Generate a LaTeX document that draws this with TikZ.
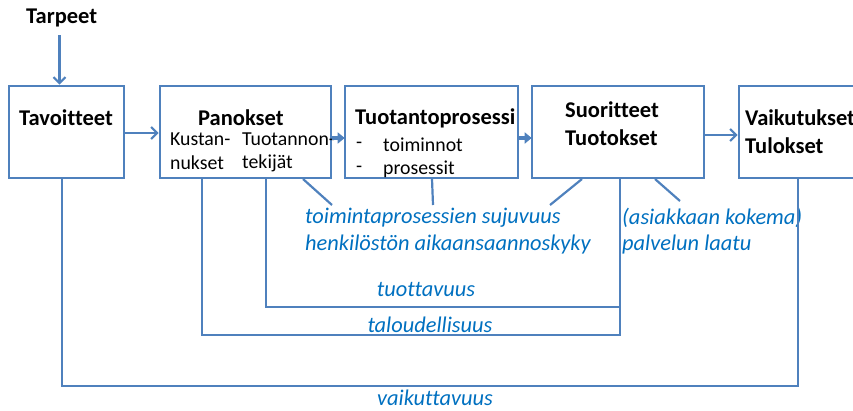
\documentclass[tikz,border=0pt]{standalone}
\usepackage{fontspec}
\setmainfont{Carlito}[Ligatures=NoCommon]
\usetikzlibrary{arrows.meta}
\definecolor{lineblue}{HTML}{4F81BD}
\definecolor{textblue}{HTML}{0070C0}
\tikzset{
  box/.style={draw=lineblue, line width=2.6pt, fill=white, minimum height=92pt, inner sep=0pt},
  btxt/.style={anchor=west, inner sep=0pt, font=\fontsize{22.5}{24}\selectfont\bfseries, text=black},
  rtxt/.style={anchor=west, inner sep=0pt, font=\fontsize{19.8}{22}\selectfont, text=black},
  itxt/.style={anchor=west, inner sep=0pt, font=\fontsize{22.4}{24}\selectfont\itshape, text=textblue},
  conn/.style={draw=lineblue, line width=2.2pt},
  thinarrow/.style={draw=lineblue, line width=2.2pt, -{Straight Barb[length=6pt,width=12pt,line width=2.2pt]}},
  fatarrow/.style={draw=lineblue, line width=4.5pt, -{Triangle[length=7pt,width=11pt]}, shorten >=-1pt}
}
\begin{document}
\begin{tikzpicture}[x=1pt,y=-1pt]
\useasboundingbox (0,0) rectangle (853,410);
\clip (0,0) rectangle (853,410);
% boxes
\node[box, minimum width=115pt] (tav) at (66.5,132) {};
\node[box, minimum width=171pt] (pan) at (245.5,132) {};
\node[box, minimum width=173pt] (tuo) at (431.5,132) {};
\node[box, minimum width=172pt] (suo) at (618,132) {};
\node[box, minimum width=150pt] (vai) at (814,132) {};
% texts
\node[btxt] (tarpeet) at (26,18) {Tarpeet};
\node[btxt] (tavt) at (19,118) {Tavoitteet};
\node[btxt] (pant) at (198,118) {Panokset};
\node[rtxt] (kus1) at (170,139) {Kustan-};
\node[rtxt] (kus2) at (170,163) {nukset};
\node[rtxt] (tek1) at (242,139) {Tuotannon-};
\node[rtxt] (tek2) at (242,163) {tekijät};
\node[btxt] (tuot) at (355,118) {Tuotantoprosessi};
\node[rtxt] (d1) at (356,145) {-};
\node[rtxt] (d2) at (356,169) {-};
\node[rtxt] (toim) at (383,145) {toiminnot};
\node[rtxt] (pros) at (383,169) {prosessit};
\node[btxt] (suot1) at (565,110) {Suoritteet};
\node[btxt] (suot2) at (565,138) {Tuotokset};
\node[btxt] (vait1) at (745,118) {Vaikutukset};
\node[btxt] (vait2) at (745,146) {Tulokset};
% blue labels
\node[itxt] (l1) at (305,218) {toimintaprosessien sujuvuus};
\node[itxt] (l2) at (305,245) {henkilöstön aikaansaannoskyky};
\node[itxt] (l3) at (622,218) {(asiakkaan kokema)};
\node[itxt] (l4) at (622,245) {palvelun laatu};
\node[itxt, anchor=center] (tuotta) at (426,289) {tuottavuus};
\node[itxt, anchor=center] (talous) at (430,325) {taloudellisuus};
\node[itxt, anchor=center] (vaikut) at (435,398) {vaikuttavuus};
% arrows between boxes
\coordinate (tarpbot) at (59.5,35);
\draw[thinarrow] (tarpbot) -- (tarpbot |- tav.north);
\draw[thinarrow] (tav.east |- 0,133) -- (pan.west |- 0,133);
\draw[fatarrow] (pan.east |- 0,138) -- (tuo.west |- 0,138);
\draw[fatarrow] (tuo.east |- 0,138) -- (suo.west |- 0,138);
\draw[thinarrow] (suo.east |- 0,135) -- (vai.west |- 0,135);
% diagonal connectors
\coordinate (c1) at (332,205);
\coordinate (c2) at (433,205);
\coordinate (c3) at (550,205);
\coordinate (c4) at (680,201);
\draw[conn] (303,179) -- (c1);
\draw[conn] (432,179) -- (c2);
\draw[conn] (582,179) -- (c3);
\draw[conn] (655,179) -- (c4);
% measurement brackets
\draw[conn] (266,179) -- (266,307) -- (620,307);
\draw[conn] (202,179) -- (202,335) -- (620,335) -- (620,179);
\draw[conn] (62,179) -- (62,386) -- (798,386) -- (798,179);
\end{tikzpicture}
\end{document}
